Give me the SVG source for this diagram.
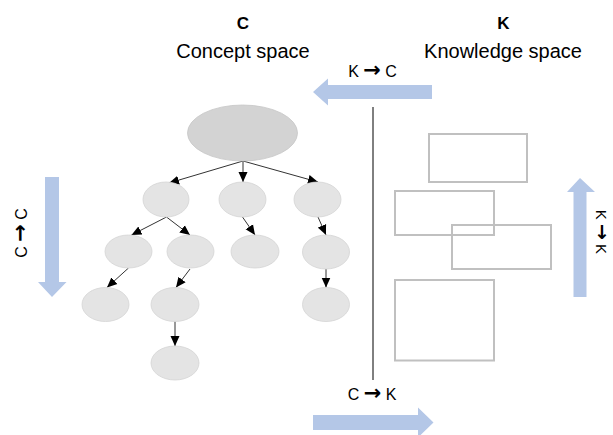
<svg xmlns="http://www.w3.org/2000/svg" width="613" height="435" viewBox="0 0 613 435">
<defs>
<style>
text{font-family:"Liberation Sans",Arial,sans-serif;fill:#000}
.title{font-size:17px;font-weight:bold;text-anchor:middle}
.sub{font-size:20px;text-anchor:middle}
.lbl{font-size:16px;text-anchor:middle}
.ar{font-family:"DejaVu Sans",sans-serif;font-weight:bold;font-size:21px}
.node{fill:#e4e4e4;stroke:#d4d4d4;stroke-width:0.8}
.root{fill:#d3d3d3;stroke:#c6c6c6;stroke-width:0.8}
.box{fill:none;stroke:#c0c0c0;stroke-width:2}
.edge{stroke:#333;stroke-width:1;fill:none;marker-end:url(#ah)}
.big{fill:#b4c7e7}
</style>
<marker id="ah" markerUnits="userSpaceOnUse" markerWidth="10" markerHeight="10" viewBox="0 0 10 10" refX="10" refY="5" orient="auto">
<path d="M0,0.5 L10,5 L0,9.5 Z" fill="#000"/>
</marker>
</defs>
<rect width="613" height="435" fill="#fff"/>

<g id="titles">
<text class="title" x="243" y="29">C</text>
<text class="sub" x="243" y="58">Concept space</text>
<text class="title" x="503.5" y="29">K</text>
<text class="sub" x="503" y="58">Knowledge space</text>
</g>

<g id="divider"><line x1="373" y1="107" x2="373" y2="380" stroke="#000" stroke-width="1"/></g>

<g id="arrow-KC">
<polygon class="big" points="432,85 328,85 328,78.5 313,92 328,105.5 328,99 432,99"/>
<text class="lbl" x="372.5" y="77">K <tspan class="ar">→</tspan> C</text>
</g>
<g id="arrow-CK">
<polygon class="big" points="313,415 418,415 418,407.5 433.5,422.5 418,437.5 418,430 313,430"/>
<text class="lbl" x="372" y="400">C <tspan class="ar">→</tspan> K</text>
</g>
<g id="arrow-CC">
<polygon class="big" points="45,177 59,177 59,282 66.5,282 52,297 38,282 45,282"/>
<text class="lbl" transform="translate(27,233) rotate(-90)">C <tspan class="ar">→</tspan> C</text>
</g>
<g id="arrow-KK">
<polygon class="big" points="573.5,297 586.5,297 586.5,192 595,192 580,178 567,192 573.5,192"/>
<text class="lbl" style="font-size:15px" transform="translate(596,232) rotate(90)">K <tspan class="ar" style="font-size:19px">→</tspan> K</text>
</g>

<g id="connectors">
<line class="edge" x1="243" y1="161" x2="169" y2="183"/>
<line class="edge" x1="243" y1="161" x2="243" y2="182"/>
<line class="edge" x1="243" y1="161" x2="318" y2="182"/>
<line class="edge" x1="166.5" y1="217" x2="131.5" y2="235"/>
<line class="edge" x1="166.5" y1="217" x2="190" y2="235"/>
<line class="edge" x1="242.5" y1="217" x2="255" y2="235"/>
<line class="edge" x1="318" y1="217" x2="326" y2="235"/>
<line class="edge" x1="128.5" y1="268" x2="107" y2="287.5"/>
<line class="edge" x1="190" y1="269" x2="176" y2="287.5"/>
<line class="edge" x1="326" y1="269" x2="326" y2="287.5"/>
<line class="edge" x1="175" y1="321.5" x2="175" y2="346"/>
</g>

<g id="node-root"><ellipse class="root" cx="242.5" cy="133" rx="55" ry="28"/></g>
<g id="node-a"><ellipse class="node" cx="166" cy="199.5" rx="23" ry="17.5"/></g>
<g id="node-b"><ellipse class="node" cx="242.5" cy="199.5" rx="23.5" ry="17.5"/></g>
<g id="node-c"><ellipse class="node" cx="317.5" cy="199.5" rx="23.5" ry="17.5"/></g>
<g id="node-a1"><ellipse class="node" cx="128.5" cy="251.5" rx="23.5" ry="16.5"/></g>
<g id="node-a2"><ellipse class="node" cx="190.5" cy="251.5" rx="23.5" ry="16.5"/></g>
<g id="node-b1"><ellipse class="node" cx="255" cy="251.5" rx="24" ry="16.5"/></g>
<g id="node-c1"><ellipse class="node" cx="326" cy="252" rx="23.5" ry="17"/></g>
<g id="node-a11"><ellipse class="node" cx="105.5" cy="304.5" rx="23.5" ry="17"/></g>
<g id="node-a21"><ellipse class="node" cx="175" cy="304.5" rx="24" ry="17"/></g>
<g id="node-c11"><ellipse class="node" cx="326" cy="304.5" rx="23.5" ry="17"/></g>
<g id="node-a211"><ellipse class="node" cx="175" cy="363" rx="24" ry="17"/></g>

<g id="knowledge-boxes">
<rect id="k1" class="box" x="429" y="134" width="98" height="48"/>
<rect id="k2" class="box" x="395" y="191" width="99" height="44"/>
<rect id="k3" class="box" x="452" y="225" width="99" height="44"/>
<rect id="k4" class="box" x="395" y="280" width="99" height="80.5"/>
</g>
</svg>
